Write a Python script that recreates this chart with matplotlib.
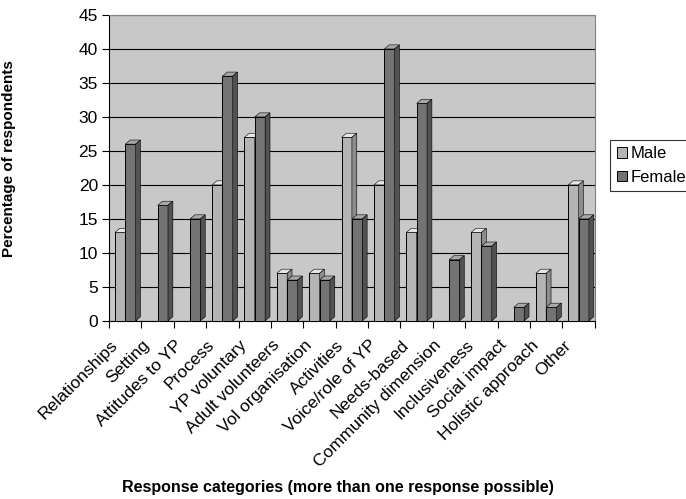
import numpy as np
import matplotlib.pyplot as plt
from matplotlib.patches import Polygon, Patch

plt.rcParams['font.family'] = ['Liberation Sans', 'DejaVu Sans']

categories = ['Relationships', 'Setting', 'Attitudes to YP', 'Process', 'YP voluntary',
              'Adult volunteers', 'Vol organisation', 'Activities', 'Voice/role of YP',
              'Needs-based', 'Community dimension', 'Inclusiveness', 'Social impact',
              'Holistic approach', 'Other']
male = [13, 0, 0, 20, 27, 7, 7, 27, 20, 13, 0, 13, 0, 7, 20]
female = [26, 17, 15, 36, 30, 6, 6, 15, 40, 32, 9, 11, 2, 2, 15]

fig = plt.figure(figsize=(6.86, 4.99), dpi=100)
ax = fig.add_axes([0.159, 0.357, 0.708, 0.613])
ax.set_facecolor('#c8c8c8')

width = 0.32
dx, dy = 0.15, 0.6   # depth of the fake 3d extrusion

def bar3d(x0, h, front, top, side):
    if h <= 0:
        return
    ax.bar(x0, h, width, align='edge', color=front, edgecolor='black', lw=0.7, zorder=3)
    ax.add_patch(Polygon([(x0, h), (x0 + dx, h + dy), (x0 + width + dx, h + dy), (x0 + width, h)],
                         closed=True, fc=top, ec='black', lw=0.4, zorder=3))
    ax.add_patch(Polygon([(x0 + width, 0), (x0 + width + dx, dy), (x0 + width + dx, h + dy), (x0 + width, h)],
                         closed=True, fc=side, ec='black', lw=0.4, zorder=3))

for i in range(len(categories)):
    bar3d(i + 0.18, male[i], '#b4b4b4', '#e6e6e6', '#8c8c8c')
    bar3d(i + 0.50, female[i], '#737373', '#a8a8a8', '#525252')

ax.set_xlim(0, len(categories))
ax.set_ylim(0, 45)
ax.set_yticks(np.arange(0, 46, 5))
ax.yaxis.grid(True, color='black', lw=0.8, zorder=1)
ax.set_axisbelow(True)

# group boundaries get the visible ticks; the slanted names hang off
# invisible minor ticks placed near the left edge of each group
ax.set_xticks(np.arange(0, len(categories) + 1))
ax.set_xticklabels([])
ax.set_xticks(np.arange(len(categories)) + 0.02, minor=True)
ax.set_xticklabels(categories, minor=True, rotation=45, ha='right', va='top',
                   rotation_mode='anchor', fontsize=12.5)
ax.tick_params(axis='x', which='minor', length=0, pad=12)
ax.tick_params(axis='x', which='major', length=5, color='black', direction='out')
ax.tick_params(axis='y', length=5, labelsize=12.5, direction='out', pad=3)

for s in ['top', 'right']:
    ax.spines[s].set_color('#808080')
for s in ['left', 'bottom']:
    ax.spines[s].set_color('black')

ax.set_ylabel('Percentage of respondents', fontsize=11, fontweight='bold')
ax.yaxis.set_label_coords(-0.191, 0.53)
fig.text(0.493, 0.008, 'Response categories (more than one response possible)',
         ha='center', va='bottom', fontsize=11.5, fontweight='bold')

handles = [Patch(fc='#b4b4b4', ec='black', lw=0.7), Patch(fc='#737373', ec='black', lw=0.7)]
leg = fig.legend(handles, ['Male', 'Female'], loc='upper left', bbox_to_anchor=(0.889, 0.72),
                 fontsize=12, frameon=True, fancybox=False, handlelength=0.6, handleheight=0.6,
                 handletextpad=0.25, borderpad=0.4, labelspacing=0.5, borderaxespad=0)
leg.get_frame().set_edgecolor('black')
leg.get_frame().set_linewidth(0.8)

fig.savefig('out.png', dpi=100)
